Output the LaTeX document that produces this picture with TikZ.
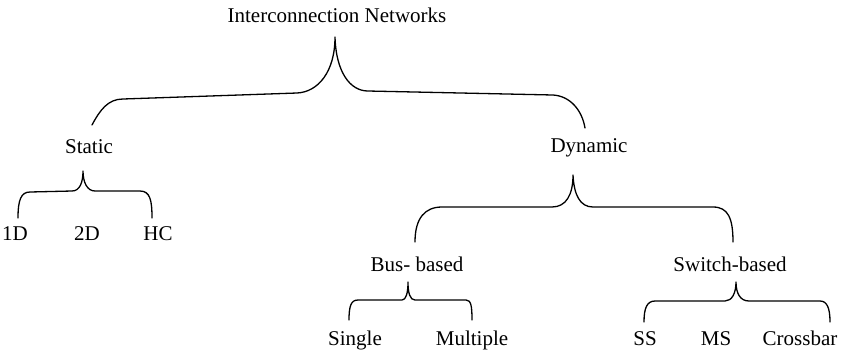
\documentclass[tikz,border=0pt]{standalone}
\usepackage{fontspec}
\setmainfont{Liberation Serif}
\usepackage{tikz}
\usetikzlibrary{positioning}

\begin{document}
\begin{tikzpicture}[
  x=1pt, y=-1pt,
  term/.style={anchor=base, inner sep=0pt, font=\fontsize{21}{24}\selectfont},
  curlyline/.style={line width=1.3pt, line cap=round, line join=round}
]
\useasboundingbox (0,0) rectangle (842,354);

% Tree labels
\node[term] (networks) at (337,22) {Interconnection Networks};
\node[term] (static) at (89,153) {Static};
\node[term] (dynamic) at (589,152) {Dynamic};
\node[term] (oned) at (15,240) {1D};
\node[term] (twod) at (87,240) {2D};
\node[term] (hc) at (158,240) {HC};
\node[term] (bus) at (417,271) {Bus- based};
\node[term] (switch) at (730,271) {Switch-based};
\node[term] (single) at (355,345) {Single};
\node[term] (multiple) at (472,345) {Multiple};
\node[term] (ss) at (645,345) {SS};
\node[term] (ms) at (716,345) {MS};
\node[term] (crossbar) at (800,345) {Crossbar};

% Brace tips and ends
\coordinate (networks-tip) at (335,37);
\coordinate (networks-l) at (92,125);
\coordinate (networks-r) at (585,128);
\coordinate (static-tip) at (83,171);
\coordinate (static-l) at (18,218);
\coordinate (static-r) at (152,218);
\coordinate (dynamic-tip) at (573,175);
\coordinate (dynamic-l) at (415,242);
\coordinate (dynamic-r) at (733,242);
\coordinate (bus-tip) at (408,282);
\coordinate (bus-l) at (349,320);
\coordinate (bus-r) at (472,320);
\coordinate (switch-tip) at (736,282);
\coordinate (switch-l) at (644,322);
\coordinate (switch-r) at (830,322);

% Braces
\draw[curlyline] (networks-l) .. controls (100,110) and (108,99) .. (123,99) -- (297,93)
  .. controls (318,92) and (335,72) .. (networks-tip)
  .. controls (336,72) and (350,91) .. (368,91) -- (553,95)
  .. controls (570,96) and (582,110) .. (networks-r);
\draw[curlyline] (static-l) .. controls (18,200) and (21,192) .. (30,192) -- (72,191)
  .. controls (80,191) and (83,182) .. (static-tip)
  .. controls (83,182) and (87,191) .. (95,191) -- (140,191)
  .. controls (150,191) and (152,200) .. (static-r);
\draw[curlyline] (dynamic-l) .. controls (415,218) and (425,207) .. (442,207) -- (552,207)
  .. controls (566,207) and (573,195) .. (dynamic-tip)
  .. controls (574,195) and (580,207) .. (593,207) -- (713,207)
  .. controls (728,207) and (733,218) .. (dynamic-r);
\draw[curlyline] (bus-l) .. controls (349,306) and (351,300) .. (358,300) -- (402,300)
  .. controls (406,300) and (408,293) .. (bus-tip)
  .. controls (408,293) and (410,300) .. (415,300) -- (466,300)
  .. controls (471,300) and (472,306) .. (bus-r);
\draw[curlyline] (switch-l) .. controls (644,308) and (647,301) .. (655,301) -- (725,301)
  .. controls (732,301) and (736,293) .. (switch-tip)
  .. controls (736,293) and (740,301) .. (749,301) -- (820,301)
  .. controls (827,301) and (830,308) .. (switch-r);

\end{tikzpicture}
\end{document}
